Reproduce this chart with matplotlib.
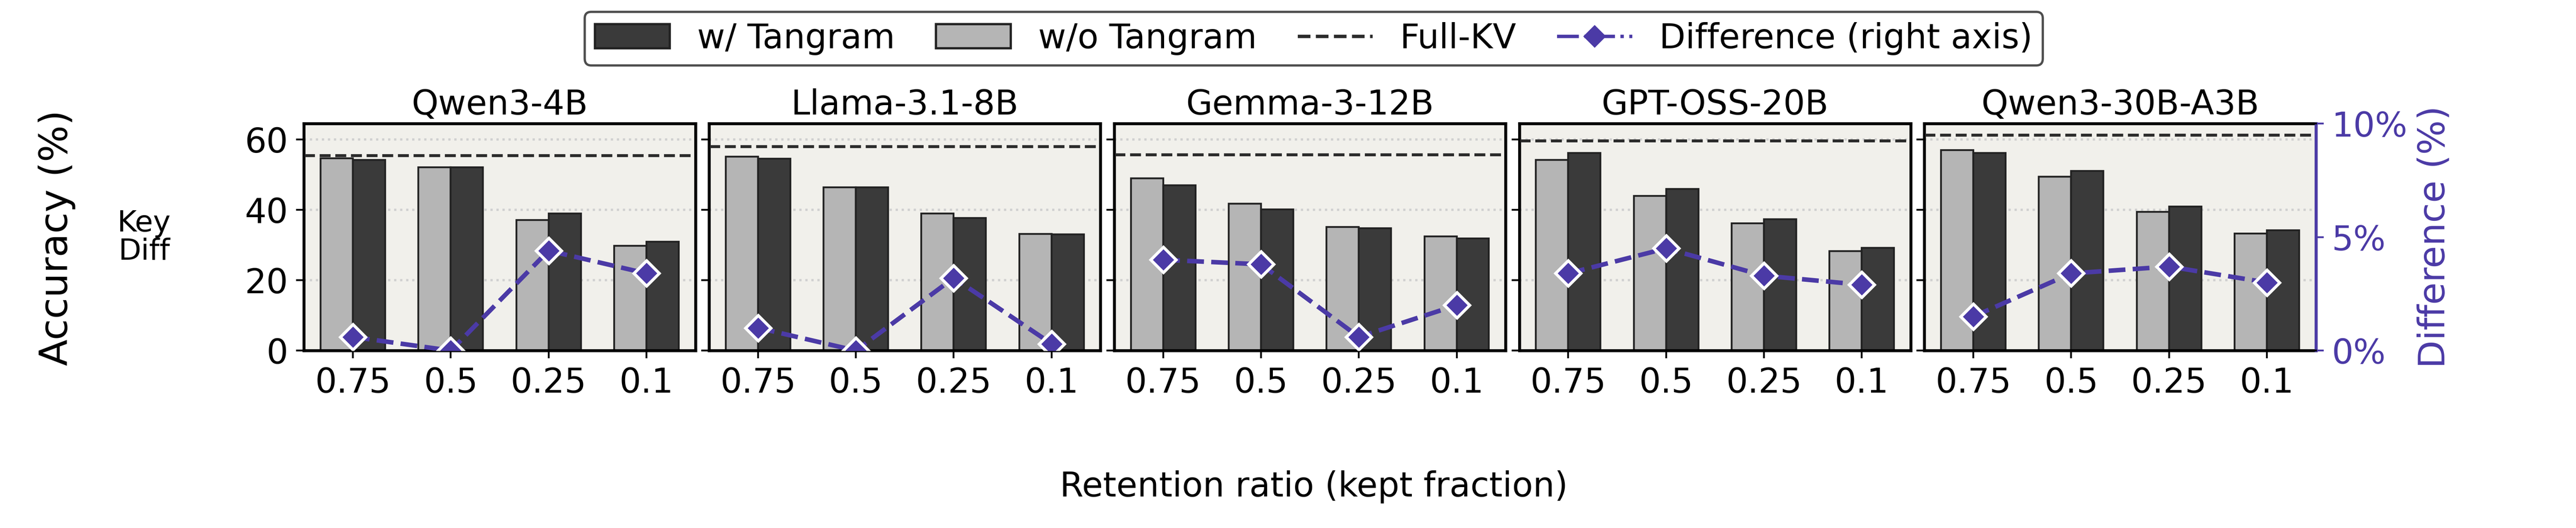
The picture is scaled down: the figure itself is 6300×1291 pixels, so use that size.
import matplotlib
matplotlib.use("Agg")
import matplotlib.pyplot as plt
from matplotlib.lines import Line2D
from matplotlib.patches import Patch
import numpy as np

models = ["Qwen3-4B", "Llama-3.1-8B", "Gemma-3-12B", "GPT-OSS-20B", "Qwen3-30B-A3B"]
ratios = ["0.75", "0.5", "0.25", "0.1"]
wo_tangram = [
    [54.6, 52.1, 37.1, 29.8],
    [55.1, 46.4, 38.9, 33.1],
    [48.9, 41.7, 35.1, 32.5],
    [54.2, 43.9, 36.2, 28.3],
    [57.0, 49.4, 39.4, 33.2],
]
w_tangram = [
    [54.2, 52.1, 38.9, 30.9],
    [54.5, 46.4, 37.7, 33.0],
    [47.0, 40.1, 34.8, 31.9],
    [56.1, 45.9, 37.3, 29.2],
    [56.1, 51.0, 40.9, 34.2],
]
full_kv = [55.4, 58.0, 55.7, 59.6, 61.2]
difference = [
    [0.6, 0.0, 4.4, 3.4],
    [1.0, 0.0, 3.2, 0.3],
    [4.0, 3.8, 0.6, 2.0],
    [3.4, 4.5, 3.3, 2.9],
    [1.5, 3.4, 3.7, 3.0],
]

PURPLE = "#4b3aa6"
DARK = "#3a3a3a"
LIGHT = "#b5b5b5"

plt.rcParams["font.size"] = 15
fig, axes = plt.subplots(1, 5, figsize=(15.75, 3.2275), dpi=400)
fig.subplots_adjust(left=0.118, right=0.899, top=0.766, bottom=0.336, wspace=0.035)

x = np.arange(len(ratios))
w = 0.33
for i, ax in enumerate(axes):
    ax.set_facecolor("#f1f0eb")
    ax.bar(x - w / 2, wo_tangram[i], w, color=LIGHT, edgecolor="#222222", linewidth=0.8, zorder=2)
    ax.bar(x + w / 2, w_tangram[i], w, color=DARK, edgecolor="#222222", linewidth=0.8, zorder=2)
    ax.axhline(full_kv[i], color="#2b2b2b", linestyle="--", linewidth=1.3, zorder=3)
    ax.set_ylim(0, 64.5)
    ax.set_xlim(-0.5, 3.5)
    ax.set_yticks([0, 20, 40, 60])
    ax.yaxis.grid(True, linestyle=":", color="#d0d0d0", linewidth=1.0, zorder=0)
    ax.set_axisbelow(True)
    ax.set_xticks(x)
    ax.set_xticklabels(ratios)
    ax.set_title(models[i], fontsize=15, pad=4)
    for s in ax.spines.values():
        s.set_linewidth(1.3)
    if i > 0:
        ax.tick_params(axis="y", labelleft=False)
    tw = ax.twinx()
    tw.plot(x, difference[i], color=PURPLE, linestyle="--", linewidth=2, marker="D",
            markersize=8, markeredgecolor="white", markeredgewidth=1.3, zorder=5)
    tw.set_ylim(0, 10)
    if i == 4:
        tw.set_yticks([0, 5, 10])
        tw.set_yticklabels(["0%", "5%", "10%"], color=PURPLE)
        tw.tick_params(axis="y", colors=PURPLE)
        tw.spines["right"].set_color(PURPLE)
        tw.spines["right"].set_linewidth(1.3)
        tw.set_ylabel("Difference (%)", color=PURPLE, fontsize=16)
    else:
        tw.set_yticks([])

fig.text(0.022, 0.55, "Accuracy (%)", ha="center", va="center", rotation=90, fontsize=17)
fig.text(0.056, 0.55, "Key\nDiff", ha="center", va="center", fontsize=13, linespacing=1.0)
fig.text(0.51, 0.06, "Retention ratio (kept fraction)", ha="center", fontsize=15)

handles = [
    Patch(facecolor=DARK, edgecolor="#222222", label="w/ Tangram"),
    Patch(facecolor=LIGHT, edgecolor="#222222", label="w/o Tangram"),
    Line2D([0], [0], color="#2b2b2b", linestyle="--", label="Full-KV"),
    Line2D([0], [0], color=PURPLE, linestyle="-.", marker="D", label="Difference (right axis)"),
]
fig.legend(handles=handles, loc="upper center", bbox_to_anchor=(0.51, 1.01), ncol=4,
           frameon=True, edgecolor="#222222", fontsize=15, handlelength=2.2, columnspacing=1.2,
           borderpad=0.3)

fig.savefig("out.png")
